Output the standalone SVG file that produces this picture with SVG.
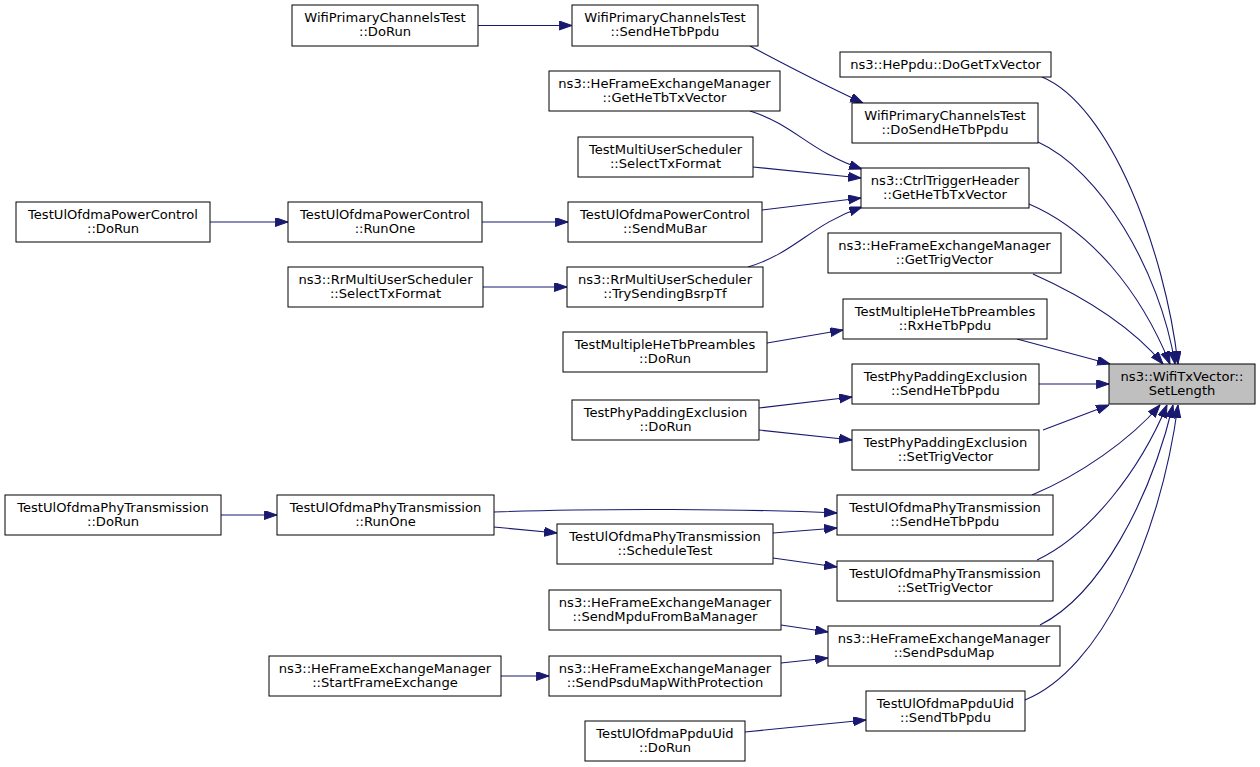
<svg xmlns="http://www.w3.org/2000/svg" width="1260" height="767" viewBox="0 0 1260 767">
<style>
.n rect{fill:#ffffff;stroke:#000000;stroke-width:1}
.n.root rect{fill:#bfbfbf}
.n text{font-family:"DejaVu Sans","Liberation Sans",sans-serif;font-size:13.1px;fill:#000000;text-anchor:middle}
.e path{fill:none;stroke:#191970;stroke-width:1.1;marker-end:url(#ah)}
</style>
<defs>
<marker id="ah" markerUnits="userSpaceOnUse" markerWidth="13" markerHeight="10" refX="12.8" refY="4.5" orient="auto">
<path d="M0,0 L12.8,4.5 L0,9 z" fill="#191970" stroke="#191970" stroke-width="1"/>
</marker>
</defs>
<rect width="1260" height="767" fill="#ffffff"/>
<g id="connectors" class="e">
<path d="M478,25.5 L572,25.5"/>
<path d="M750,46 C780,62 820,83 863,103"/>
<path d="M750,111 C795,125 810,152 862,169"/>
<path d="M753,167 L861,178"/>
<path d="M762,210 L861,198"/>
<path d="M748,267 C795,253 810,225 862,207"/>
<path d="M210,222 L288,222"/>
<path d="M482,222 L568,222"/>
<path d="M483,287 L567,287"/>
<path d="M767,343 L843,330"/>
<path d="M759,408 L852,397"/>
<path d="M759,430 L852,440"/>
<path d="M221,515 L277,515"/>
<path d="M494,512 C600,508 750,509 837,513"/>
<path d="M494,527 L557,533"/>
<path d="M773,533 L837,528"/>
<path d="M773,558 L837,567"/>
<path d="M781,625 L828,632"/>
<path d="M781,663 L828,658"/>
<path d="M501,676 L549,676"/>
<path d="M745,732 L866,720"/>
<path d="M1042,77 C1110,105 1165,250 1178,364"/>
<path d="M1038,142 C1100,170 1160,270 1175,364"/>
<path d="M1029,204 C1090,230 1140,290 1170,364"/>
<path d="M1033,274 C1080,295 1130,325 1163,364"/>
<path d="M1017,339 L1110,364"/>
<path d="M1039,384 L1109,384"/>
<path d="M1043,430 L1109,405"/>
<path d="M1032,495 C1080,475 1130,440 1160,405"/>
<path d="M1037,560 C1090,535 1140,470 1167,405"/>
<path d="M1040,625 C1100,595 1150,500 1173,405"/>
<path d="M1025,700 C1100,670 1160,540 1178,405"/>
</g>
<g id="n_root" class="n root"><rect x="1109" y="364" width="146" height="40"/><text x="1182" y="381">ns3::WifiTxVector::</text><text x="1182" y="395">SetLength</text></g>
<g id="n_heppdu" class="n"><rect x="840" y="52" width="211" height="25"/><text x="945.5" y="69">ns3::HePpdu::DoGetTxVector</text></g>
<g id="n_dosendhetb" class="n"><rect x="852" y="103" width="186" height="40"/><text x="945" y="120">WifiPrimaryChannelsTest</text><text x="945" y="134">::DoSendHeTbPpdu</text></g>
<g id="n_ctrltrig" class="n"><rect x="861" y="168" width="168" height="40"/><text x="945" y="185">ns3::CtrlTriggerHeader</text><text x="945" y="199">::GetHeTbTxVector</text></g>
<g id="n_gettrigvec" class="n"><rect x="828" y="233" width="233" height="40"/><text x="944.5" y="250">ns3::HeFrameExchangeManager</text><text x="944.5" y="264">::GetTrigVector</text></g>
<g id="n_rxhetb" class="n"><rect x="843" y="299" width="204" height="40"/><text x="945" y="316">TestMultipleHeTbPreambles</text><text x="945" y="330">::RxHeTbPpdu</text></g>
<g id="n_padsend" class="n"><rect x="852" y="364" width="187" height="40"/><text x="945.5" y="381">TestPhyPaddingExclusion</text><text x="945.5" y="395">::SendHeTbPpdu</text></g>
<g id="n_padsettrig" class="n"><rect x="852" y="430" width="187" height="40"/><text x="945.5" y="447">TestPhyPaddingExclusion</text><text x="945.5" y="461">::SetTrigVector</text></g>
<g id="n_physend" class="n"><rect x="837" y="495" width="216" height="40"/><text x="945" y="512">TestUlOfdmaPhyTransmission</text><text x="945" y="526">::SendHeTbPpdu</text></g>
<g id="n_physettrig" class="n"><rect x="837" y="561" width="216" height="40"/><text x="945" y="578">TestUlOfdmaPhyTransmission</text><text x="945" y="592">::SetTrigVector</text></g>
<g id="n_sendpsdumap" class="n"><rect x="828" y="626" width="232" height="40"/><text x="944" y="643">ns3::HeFrameExchangeManager</text><text x="944" y="657">::SendPsduMap</text></g>
<g id="n_sendtbppdu" class="n"><rect x="866" y="691" width="159" height="40"/><text x="945.5" y="708">TestUlOfdmaPpduUid</text><text x="945.5" y="722">::SendTbPpdu</text></g>
<g id="n_wifisendhetb" class="n"><rect x="572" y="5" width="186" height="41"/><text x="665" y="22">WifiPrimaryChannelsTest</text><text x="665" y="36">::SendHeTbPpdu</text></g>
<g id="n_hefemgethetb" class="n"><rect x="549" y="71" width="231" height="40"/><text x="664.5" y="88">ns3::HeFrameExchangeManager</text><text x="664.5" y="102">::GetHeTbTxVector</text></g>
<g id="n_tmusselect" class="n"><rect x="578" y="137" width="175" height="40"/><text x="665.5" y="154">TestMultiUserScheduler</text><text x="665.5" y="168">::SelectTxFormat</text></g>
<g id="n_sendmubar" class="n"><rect x="568" y="202" width="194" height="40"/><text x="665" y="219">TestUlOfdmaPowerControl</text><text x="665" y="233">::SendMuBar</text></g>
<g id="n_trybsrp" class="n"><rect x="567" y="267" width="196" height="40"/><text x="665" y="284">ns3::RrMultiUserScheduler</text><text x="665" y="298">::TrySendingBsrpTf</text></g>
<g id="n_multidorun" class="n"><rect x="563" y="332" width="204" height="40"/><text x="665" y="349">TestMultipleHeTbPreambles</text><text x="665" y="363">::DoRun</text></g>
<g id="n_paddorun" class="n"><rect x="572" y="400" width="187" height="40"/><text x="665.5" y="417">TestPhyPaddingExclusion</text><text x="665.5" y="431">::DoRun</text></g>
<g id="n_scheduletest" class="n"><rect x="557" y="524" width="216" height="40"/><text x="665" y="541">TestUlOfdmaPhyTransmission</text><text x="665" y="555">::ScheduleTest</text></g>
<g id="n_sendmpdu" class="n"><rect x="549" y="590" width="232" height="40"/><text x="665" y="607">ns3::HeFrameExchangeManager</text><text x="665" y="621">::SendMpduFromBaManager</text></g>
<g id="n_sendpsdumapwp" class="n"><rect x="549" y="656" width="232" height="40"/><text x="665" y="673">ns3::HeFrameExchangeManager</text><text x="665" y="687">::SendPsduMapWithProtection</text></g>
<g id="n_ppduuiddorun" class="n"><rect x="585" y="721" width="160" height="40"/><text x="665" y="738">TestUlOfdmaPpduUid</text><text x="665" y="752">::DoRun</text></g>
<g id="n_wifidorun" class="n"><rect x="292" y="5" width="186" height="41"/><text x="385" y="22">WifiPrimaryChannelsTest</text><text x="385" y="36">::DoRun</text></g>
<g id="n_pcrunone" class="n"><rect x="288" y="202" width="194" height="40"/><text x="385" y="219">TestUlOfdmaPowerControl</text><text x="385" y="233">::RunOne</text></g>
<g id="n_rrselect" class="n"><rect x="288" y="267" width="195" height="40"/><text x="385.5" y="284">ns3::RrMultiUserScheduler</text><text x="385.5" y="298">::SelectTxFormat</text></g>
<g id="n_phyrunone" class="n"><rect x="277" y="495" width="217" height="40"/><text x="385.5" y="512">TestUlOfdmaPhyTransmission</text><text x="385.5" y="526">::RunOne</text></g>
<g id="n_startfe" class="n"><rect x="269" y="656" width="232" height="40"/><text x="385" y="673">ns3::HeFrameExchangeManager</text><text x="385" y="687">::StartFrameExchange</text></g>
<g id="n_pcdorun" class="n"><rect x="16" y="202" width="194" height="40"/><text x="113" y="219">TestUlOfdmaPowerControl</text><text x="113" y="233">::DoRun</text></g>
<g id="n_phydorun" class="n"><rect x="5" y="495" width="216" height="40"/><text x="113" y="512">TestUlOfdmaPhyTransmission</text><text x="113" y="526">::DoRun</text></g>
</svg>
